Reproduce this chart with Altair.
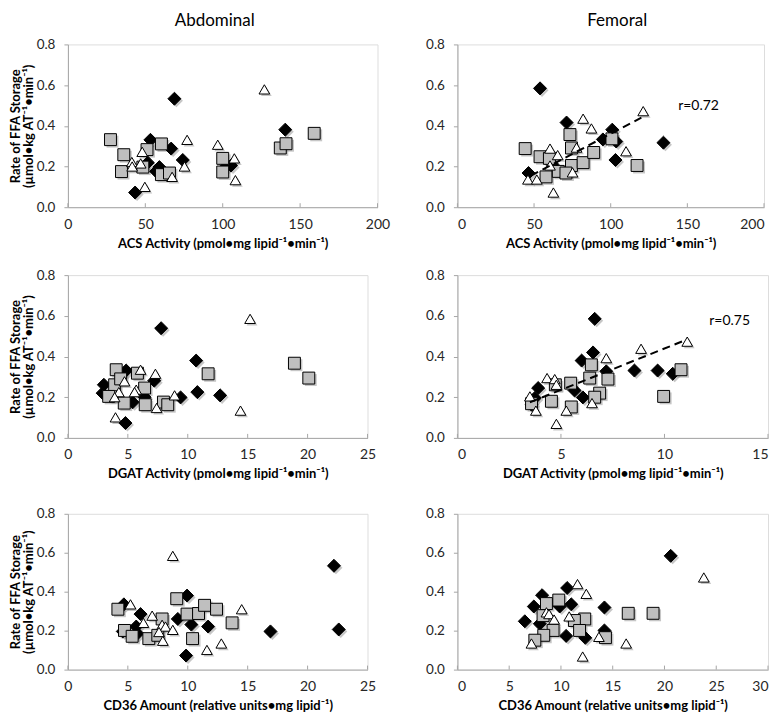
import altair as alt
import pandas as pd

FONT = "Lato"
GREY = "#a6a6a6"
LABEL = "#262626"
GROUPS = ["diamond", "square", "triangle"]
SHAPES = ["diamond", "square", "triangle-up"]
FILLS = ["#000000", "#bfbfbf", "#ffffff"]
SIZES = [170, 115, 220]

YTITLE = ["Rate of FFA Storage", "(µmol•kg AT⁻¹•min⁻¹)"]
ACS_TITLE = "ACS Activity (pmol•mg lipid⁻¹•min⁻¹)"
DGAT_TITLE = "DGAT Activity (pmol•mg lipid⁻¹•min⁻¹)"
CD36_TITLE = "CD36 Amount (relative units•mg lipid⁻¹)"
Y_TICKS = [0.0, 0.2, 0.4, 0.6, 0.8]

# ---- Abdominal, ACS ----
p1_dia_x = [68.8, 140.4, 53.3, 66.7, 74.2, 51.6, 59.1, 57.0, 105.4, 102.0, 43.4]
p1_dia_y = [0.533, 0.381, 0.331, 0.288, 0.232, 0.219, 0.197, 0.176, 0.205, 0.198, 0.072]
p1_sq_x = [27.5, 36.1, 34.6, 51.1, 48.4, 60.4, 60.4, 65.6, 100.0, 100.0, 137.2, 140.9, 159.1]
p1_sq_y = [0.332, 0.258, 0.175, 0.283, 0.197, 0.311, 0.160, 0.168, 0.240, 0.173, 0.291, 0.312, 0.363]
p1_tri_x = [126.9, 77.0, 96.8, 41.3, 48.0, 47.0, 41.5, 49.7, 75.3, 67.3, 107.5, 108.2]
p1_tri_y = [0.579, 0.331, 0.307, 0.222, 0.272, 0.215, 0.200, 0.100, 0.200, 0.149, 0.240, 0.133]

# ---- Femoral, ACS ----
p2_dia_x = [53.9, 71.2, 101.0, 94.9, 103.6, 103.1, 134.4, 46.4, 62.0]
p2_dia_y = [0.584, 0.416, 0.381, 0.333, 0.323, 0.232, 0.317, 0.168, 0.210]
p2_sq_x = [44.2, 53.9, 60.0, 73.4, 74.4, 74.4, 57.8, 65.8, 70.8, 82.0, 88.9, 100.8, 117.2]
p2_sq_y = [0.288, 0.248, 0.240, 0.357, 0.291, 0.205, 0.149, 0.176, 0.168, 0.219, 0.269, 0.336, 0.205]
p2_tri_x = [121.2, 82.0, 87.4, 60.4, 65.4, 77.7, 60.4, 110.0, 75.1, 46.0, 51.8, 62.6]
p2_tri_y = [0.472, 0.435, 0.387, 0.288, 0.256, 0.293, 0.205, 0.275, 0.171, 0.136, 0.136, 0.072]
p2_fit_x = [48, 120]
p2_fit_y = [0.155, 0.440]
p2_note = "r=0.72"
p2_note_xy = [144, 0.48]

# ---- Abdominal, DGAT ----
p3_dia_x = [7.78, 10.7, 3.0, 2.9, 4.86, 7.2, 6.4, 5.4, 9.4, 10.8, 12.7, 4.8]
p3_dia_y = [0.539, 0.380, 0.261, 0.220, 0.331, 0.281, 0.200, 0.175, 0.199, 0.225, 0.209, 0.073]
p3_sq_x = [4.03, 3.9, 3.4, 4.4, 4.7, 5.8, 6.4, 6.45, 7.97, 8.33, 11.7, 18.9, 20.1]
p3_sq_y = [0.335, 0.261, 0.204, 0.290, 0.171, 0.318, 0.245, 0.163, 0.176, 0.163, 0.315, 0.367, 0.294]
p3_tri_x = [15.2, 6.06, 7.3, 4.72, 5.7, 4.25, 3.9, 5.56, 8.9, 7.4, 3.97, 14.4]
p3_tri_y = [0.585, 0.335, 0.315, 0.278, 0.237, 0.225, 0.200, 0.225, 0.209, 0.147, 0.101, 0.134]

# ---- Femoral, DGAT ----
p4_dia_x = [6.63, 6.55, 6.0, 7.19, 8.55, 9.67, 10.4, 5.66, 6.06, 3.9, 3.74, 3.58]
p4_dia_y = [0.585, 0.420, 0.380, 0.327, 0.331, 0.331, 0.315, 0.233, 0.199, 0.245, 0.196, 0.163]
p4_sq_x = [6.47, 6.39, 7.27, 5.47, 6.87, 6.63, 5.5, 4.54, 3.58, 9.96, 10.8, 4.73]
p4_sq_y = [0.359, 0.294, 0.289, 0.269, 0.220, 0.200, 0.152, 0.180, 0.168, 0.204, 0.335, 0.261]
p4_tri_x = [11.1, 8.87, 7.19, 4.33, 4.7, 4.78, 3.5, 3.79, 5.26, 6.5, 4.78]
p4_tri_y = [0.473, 0.438, 0.392, 0.294, 0.289, 0.261, 0.204, 0.134, 0.134, 0.171, 0.069]
p4_fit_x = [3.5, 11.0]
p4_fit_y = [0.175, 0.480]
p4_note = "r=0.75"
p4_note_xy = [12.16, 0.553]

# ---- Abdominal, CD36 ----
p5_dia_x = [22.2, 22.6, 16.9, 9.94, 9.17, 10.3, 11.7, 9.86, 4.67, 6.06, 5.7, 4.58, 5.8]
p5_dia_y = [0.533, 0.206, 0.196, 0.380, 0.260, 0.231, 0.221, 0.072, 0.335, 0.285, 0.221, 0.196, 0.185]
p5_sq_x = [4.17, 4.72, 5.36, 6.75, 7.86, 9.08, 9.94, 10.9, 11.4, 12.4, 13.7, 10.4, 7.5]
p5_sq_y = [0.310, 0.201, 0.171, 0.159, 0.260, 0.364, 0.285, 0.288, 0.330, 0.310, 0.240, 0.159, 0.176]
p5_tri_x = [8.75, 5.22, 7.03, 6.3, 7.86, 8.14, 8.75, 7.92, 11.6, 12.8, 14.5, 7.6]
p5_tri_y = [0.584, 0.335, 0.277, 0.240, 0.230, 0.221, 0.204, 0.148, 0.101, 0.134, 0.310, 0.193]

# ---- Femoral, CD36 ----
p6_dia_x = [20.6, 10.6, 8.18, 7.38, 11.0, 9.88, 14.2, 6.51, 7.96, 10.5, 12.35, 14.2]
p6_dia_y = [0.584, 0.419, 0.382, 0.324, 0.335, 0.324, 0.319, 0.248, 0.235, 0.173, 0.163, 0.201]
p6_sq_x = [8.6, 9.79, 8.27, 12.3, 11.3, 9.24, 11.8, 8.34, 7.48, 14.3, 16.5, 18.9]
p6_sq_y = [0.339, 0.357, 0.277, 0.260, 0.252, 0.201, 0.201, 0.176, 0.151, 0.164, 0.289, 0.289]
p6_tri_x = [23.8, 11.6, 12.45, 8.6, 8.85, 10.8, 9.34, 13.67, 16.3, 7.15, 12.1]
p6_tri_y = [0.473, 0.439, 0.389, 0.294, 0.285, 0.273, 0.257, 0.168, 0.134, 0.134, 0.067]


def make_df(dx, dy, sx, sy, tx, ty):
    rows = []
    for g, xs, ys in zip(GROUPS, (dx, sx, tx), (dy, sy, ty)):
        for a, b in zip(xs, ys):
            rows.append({"x": a, "y": b, "g": g})
    return pd.DataFrame(rows)


def panel(df, xmax, xstep, xtitle, w, h, ytitle=True, top=None, top_x=None,
          fit=None, note=None, flush=False):
    xticks = list(range(0, xmax + 1, xstep))
    xs = alt.Scale(domain=[0, xmax], nice=False, zero=True)
    ys = alt.Scale(domain=[0, 0.8], nice=False, zero=True)
    xaxis = alt.Axis(values=xticks, title=xtitle, ticks=False, tickSize=0,
                     labelPadding=10, titlePadding=6, grid=False,
                     domainColor=GREY, labelFontSize=14, labelColor=LABEL,
                     labelFont=FONT, titleFont=FONT, titleFontSize=13,
                     titleFontWeight="bold", titleColor="#000000",
                     labelFlush=flush, labelOverlap=False)
    yargs = dict(values=Y_TICKS, format=".1f", tickSize=4, tickColor=GREY,
                 domainColor=GREY, labelPadding=9, labelFontSize=13.5,
                 labelColor=LABEL, labelFont=FONT, grid=False,
                 labelFlush=False, labelOverlap=False)
    if ytitle:
        yaxis = alt.Axis(title=YTITLE, titleFont=FONT, titleFontSize=13,
                         titleFontWeight="bold", titleColor="#000000",
                         titlePadding=1, titleLineHeight=13, **yargs)
    else:
        yaxis = alt.Axis(title=None, **yargs)

    X = alt.X("x:Q", scale=xs, axis=xaxis)
    Y = alt.Y("y:Q", scale=ys, axis=yaxis)

    shape = alt.Shape("g:N", scale=alt.Scale(domain=GROUPS, range=SHAPES), legend=None)
    size = alt.Size("g:N", scale=alt.Scale(domain=GROUPS, range=SIZES), legend=None)

    shadow = alt.Chart(df).mark_point(filled=True, color="#808080", opacity=0.45,
                                      xOffset=2, yOffset=2).encode(
        x=X, y=Y, shape=shape, size=size)

    pts = alt.Chart(df).mark_point(filled=True, stroke="#000000", strokeWidth=1,
                                   opacity=1).encode(
        x=X, y=Y, shape=shape, size=size,
        fill=alt.Fill("g:N", scale=alt.Scale(domain=GROUPS, range=FILLS), legend=None))

    ticks = alt.Chart(pd.DataFrame({"x": xticks})).mark_rule(
        color=GREY, strokeWidth=1).encode(
        x=X, y=alt.value(h), y2=alt.value(h - 4))

    layers = [ticks, shadow, pts]
    if fit is not None:
        fx, fy = fit
        line = alt.Chart(pd.DataFrame({"x": fx, "y": fy})).mark_line(
            color="#000000", strokeWidth=2, strokeDash=[8, 5]).encode(x=X, y=Y)
        layers.append(line)
    if note is not None:
        txt, (nx, ny) = note
        t = alt.Chart(pd.DataFrame({"x": [nx], "y": [ny], "s": [txt]})).mark_text(
            align="left", baseline="alphabetic", fontSize=14, font=FONT,
            color="#000000").encode(x=X, y=Y, text="s:N")
        layers.append(t)
    if top is not None:
        tt = alt.Chart(pd.DataFrame({"s": [top]})).mark_text(
            align="center", baseline="alphabetic", fontSize=17, font=FONT,
            color="#000000").encode(
            x=alt.value(top_x), y=alt.value(-18), text="s:N")
        layers.append(tt)

    return alt.layer(*layers).properties(width=w, height=h)


d1 = make_df(p1_dia_x, p1_dia_y, p1_sq_x, p1_sq_y, p1_tri_x, p1_tri_y)
d2 = make_df(p2_dia_x, p2_dia_y, p2_sq_x, p2_sq_y, p2_tri_x, p2_tri_y)
d3 = make_df(p3_dia_x, p3_dia_y, p3_sq_x, p3_sq_y, p3_tri_x, p3_tri_y)
d4 = make_df(p4_dia_x, p4_dia_y, p4_sq_x, p4_sq_y, p4_tri_x, p4_tri_y)
d5 = make_df(p5_dia_x, p5_dia_y, p5_sq_x, p5_sq_y, p5_tri_x, p5_tri_y)
d6 = make_df(p6_dia_x, p6_dia_y, p6_sq_x, p6_sq_y, p6_tri_x, p6_tri_y)

c1 = panel(d1, 200, 50, ACS_TITLE, 310, 163, True, "Abdominal", 147)
c2 = panel(d2, 200, 50, ACS_TITLE, 307, 163, False, "Femoral", 160,
           fit=(p2_fit_x, p2_fit_y), note=(p2_note, p2_note_xy), flush=True)
c3 = panel(d3, 25, 5, DGAT_TITLE, 300, 163, True)
c4 = panel(d4, 15, 5, DGAT_TITLE, 311, 163, False,
           fit=(p4_fit_x, p4_fit_y), note=(p4_note, p4_note_xy), flush=True)
c5 = panel(d5, 25, 5, CD36_TITLE, 300, 156, True)
c6 = panel(d6, 30, 5, CD36_TITLE, 311, 156, False, flush=True)

row1 = alt.hconcat(c1, c2, spacing=80, bounds="flush")
row2 = alt.hconcat(c3, c4, spacing=90, bounds="flush")
row3 = alt.hconcat(c5, c6, spacing=90, bounds="flush")

lower = alt.vconcat(row2, row3, spacing=24)
chart = alt.vconcat(row1, lower, spacing=16).properties(
    padding={"left": 0, "top": 3, "right": 0, "bottom": 0}
).configure_view(strokeWidth=0, stroke="transparent").configure(font=FONT)

chart.save("out.html", embed_options={"renderer": "svg", "actions": False})
